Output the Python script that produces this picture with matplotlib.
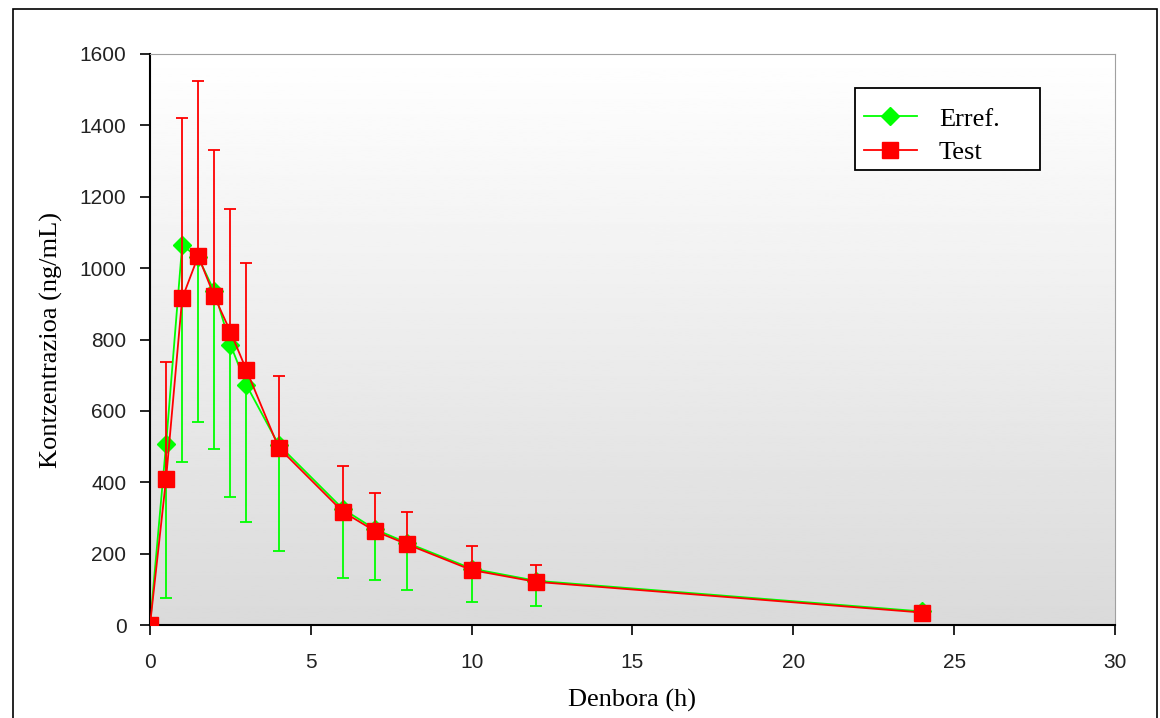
import matplotlib.pyplot as plt
import matplotlib.patches as patches
from matplotlib.lines import Line2D
import numpy as np

# sampling times (h)
times = [0, 0.5, 1, 1.5, 2, 2.5, 3, 4, 6, 7, 8, 10, 12, 24]

# reference formulation: mean and SD (only lower bar visible)
erref_mean = [0, 506, 1064, 1030, 935, 786, 672, 505, 325, 268, 230, 158, 124, 38]
erref_sd = [0, 429, 608, 460, 441, 428, 384, 298, 194, 143, 132, 94, 70, 0]

# test formulation: mean and SD (only upper bar visible)
test_mean = [0, 409, 915, 1034, 921, 822, 714, 497, 317, 263, 226, 154, 121, 35]
test_sd = [0, 329, 507, 491, 409, 345, 301, 201, 129, 106, 90, 68, 47, 0]

fig = plt.figure(figsize=(11.6, 7.18), dpi=100)
ax = fig.add_axes([0.1293, 0.1295, 0.8319, 0.7953])

# outer frame around the whole chart
fig.patches.append(patches.Rectangle((0.0112, -0.05), 0.986, 1.0375,
                                     transform=fig.transFigure, fill=False,
                                     edgecolor='black', linewidth=1.2))

# grey gradient plot background, white at top
grad = np.linspace(1.0, 0.855, 256).reshape(-1, 1)
ax.imshow(grad, extent=[0, 30, 0, 1600], aspect='auto', cmap='gray',
          vmin=0, vmax=1, zorder=0, origin='upper')
ax.set_xlim(0, 30)
ax.set_ylim(0, 1600)

zeros = [0] * len(times)
ax.errorbar(times, erref_mean, yerr=[erref_sd, zeros], color='#00ff00',
            marker='D', markersize=9, linewidth=1.3, elinewidth=1.3,
            capsize=4.5, capthick=1.3, zorder=2)
ax.errorbar(times, test_mean, yerr=[zeros, test_sd], color='#ff0000',
            marker='s', markersize=11, linewidth=1.3, elinewidth=1.3,
            capsize=4.5, capthick=1.3, zorder=3)

ax.set_xticks(np.arange(0, 31, 5))
ax.set_yticks(np.arange(0, 1601, 200))
ax.tick_params(direction='out', length=7, width=1.2, labelsize=15)
ax.tick_params(axis='x', pad=13.5)
ax.tick_params(axis='y', pad=10)
for lab in ax.get_xticklabels() + ax.get_yticklabels():
    lab.set_family('Liberation Sans')
    lab.set_color('#222222')

ax.spines['left'].set_linewidth(1.5)
ax.spines['bottom'].set_linewidth(1.5)
ax.spines['top'].set_color('#a0a0a0')
ax.spines['right'].set_color('#a0a0a0')

ax.set_xlabel('Denbora (h)', family='Liberation Serif', fontsize=19, labelpad=12)
ax.set_ylabel('Kontzentrazioa (ng/mL)', family='Liberation Serif', fontsize=19,
              labelpad=12)

# legend frame drawn separately (wide right margin as in the original)
ax.add_patch(patches.Rectangle((0.7306, 0.7968), 0.1917, 0.1437,
                               transform=ax.transAxes, facecolor='white',
                               edgecolor='black', linewidth=1.3, zorder=5))
handles = [
    Line2D([], [], color='#00ff00', marker='D', markersize=9, linewidth=1.3),
    Line2D([], [], color='#ff0000', marker='s', markersize=11, linewidth=1.3),
]
leg = ax.legend(handles, ['Erref.', 'Test'], loc='upper left',
                bbox_to_anchor=(0.740, 0.907),
                prop={'family': 'Liberation Serif', 'size': 19},
                frameon=False, handlelength=2.0, handletextpad=0.83,
                borderpad=0, labelspacing=0.38, borderaxespad=0)
leg.set_zorder(6)

fig.savefig('out.png', dpi=100)
